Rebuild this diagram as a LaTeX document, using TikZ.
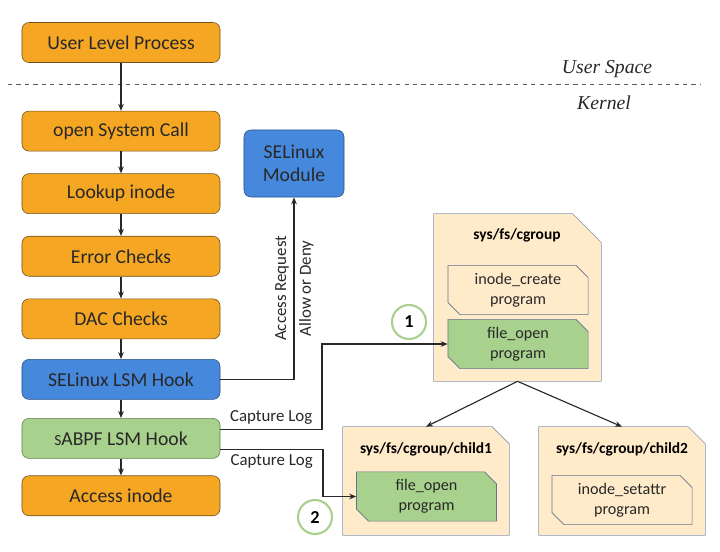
\documentclass[tikz,border=0pt]{standalone}
\usepackage{fontspec}
\setmainfont{Carlito}
\newfontfamily\labelserif{Liberation Serif}
\usepackage{tikz}
\usetikzlibrary{arrows.meta, positioning, shapes.misc, backgrounds, calc}
\definecolor{darkgray}{RGB}{40, 40, 40}
\definecolor{callorange}{RGB}{245, 166, 35}
\definecolor{callborder}{RGB}{110, 80, 30}
\definecolor{lsmblue}{RGB}{70, 136, 220}
\definecolor{lsmborder}{RGB}{40, 80, 140}
\definecolor{bpfgreen}{RGB}{169, 209, 142}
\definecolor{bpfborder}{RGB}{90, 130, 70}
\definecolor{folderfill}{RGB}{255, 235, 202}
\definecolor{folderborder}{RGB}{132, 151, 176}
\definecolor{progborder}{RGB}{100, 115, 140}

\begin{document}
\begin{tikzpicture}[
    x=0.025cm, y=-0.025cm,
    node distance=0.55cm,
    callbox/.style={draw=callborder, fill=callorange, rounded corners=5pt, minimum width=4.95cm, minimum height=1cm, font=\fontsize{14}{16}\selectfont, text=darkgray},
    lsmbox/.style={callbox, draw=lsmborder, fill=lsmblue},
    bpfbox/.style={callbox, draw=bpfborder, fill=bpfgreen},
    folder/.style={inner sep=0pt},
    folderline/.style={draw=folderborder, fill=folderfill},
    foldertitle/.style={font=\bfseries\fontsize{11}{13}\selectfont},
    prog/.style={chamfered rectangle, chamfered rectangle corners={north east, south west}, chamfered rectangle sep=0.15cm, draw=progborder, fill=folderfill, minimum width=3.5cm, minimum height=1.15cm, inner sep=1pt, align=center, font=\fontsize{11.5}{14.5}\selectfont, text=darkgray},
    badge/.style={circle, draw=bpfgreen, line width=1.5pt, fill=white, minimum size=0.85cm, font=\bfseries\fontsize{13}{15}\selectfont},
    lbl/.style={font=\fontsize{12}{14}\selectfont, text=darkgray},
    spacelbl/.style={font=\labelserif\itshape\fontsize{14}{16}\selectfont, text=darkgray},
    arrow/.style={-{Stealth[length=5pt, width=4pt]}, thick, darkgray}
]
    \useasboundingbox (0,0) rectangle (720,551);

    % Nodes - call path
    \node[callbox] (user) at (121,42.5) {User Level Process};
    \node[callbox, below=1.2cm of user] (open) {open System Call};
    \node[callbox, below=of open] (lookup) {Lookup inode};
    \node[callbox, below=of lookup] (errors) {Error Checks};
    \node[callbox, below=of errors] (dac) {DAC Checks};
    \node[lsmbox, below=0.5cm of dac] (selhook) {SELinux LSM Hook};
    \node[bpfbox, below=0.46cm of selhook] (sabpf) {{\fontsize{11}{16}\selectfont S}ABPF LSM Hook};
    \node[callbox, below=0.42cm of sabpf] (access) {Access inode};

    % Nodes - SELinux module
    \node[lsmbox, minimum width=2.5cm, minimum height=1.675cm, align=center] (semod) at (294,163.5) {SELinux\\Module};

    % User space / kernel split
    \draw[dashed, gray!70!black, thin] (8,84) -- (700,84);
    \node[spacelbl] (uspace) at (607,69) {User Space};
    \node[spacelbl] (kernel) at (604,103) {Kernel};

    % Nodes - cgroup folders
    \node[folder, minimum width=4.175cm, minimum height=4.175cm] (cgroup) at (517.5,297.5) {};
    \node[folder, minimum width=4.15cm, minimum height=2.7cm] (child1) at (426,481) {};
    \node[folder, minimum width=4.15cm, minimum height=2.7cm] (child2) at (622,481) {};
    \begin{scope}[on background layer]
        \foreach \f/\c in {cgroup/0.72cm, child1/0.43cm, child2/0.43cm}
            \draw[folderline] (\f.south west) -- (\f.north west) -- ([xshift=-\c]\f.north east)
                -- ([yshift=-\c]\f.north east) -- (\f.south east) -- cycle;
    \end{scope}
    \node[foldertitle] (cgtitle) at (517,235) {sys/fs/cgroup};
    \node[foldertitle] (c1title) at (426,449) {sys/fs/cgroup/child1};
    \node[foldertitle] (c2title) at (622,449) {sys/fs/cgroup/child2};

    % Nodes - programs
    \node[prog] (icreate) at (518,290) {inode\_create\\program};
    \node[prog, fill=bpfgreen] (fopen1) at (518,344) {file\_open\\program};
    \node[prog, fill=bpfgreen] (fopen2) at (426.5,496.5) {file\_open\\program};
    \node[prog] (isetattr) at (622,500) {inode\_setattr\\program};

    % Nodes - markers
    \node[badge] (num1) at (409,322) {1};
    \node[badge] (num2) at (315,517) {2};

    % Arrows - call path
    \draw[arrow] (user) -- (open);
    \draw[arrow] (open) -- (lookup);
    \draw[arrow] (lookup) -- (errors);
    \draw[arrow] (errors) -- (dac);
    \draw[arrow] (dac) -- (selhook);
    \draw[arrow] (selhook) -- (sabpf);
    \draw[arrow] (sabpf) -- (access);

    % Arrows - hooks
    \draw[arrow] (selhook.east) -| (semod.south)
        node[lbl, pos=0.75, above, sloped] {Access Request}
        node[lbl, pos=0.75, below, sloped] {Allow or Deny};
    \coordinate (bend1) at (322,0);
    \coordinate (bend2) at (323,0);
    \draw[arrow] ($(sabpf.east)+(0,-9)$) -| (bend1 |- fopen1.west)
        node[lbl, pos=0.25, above] {Capture Log} -- (fopen1.west);
    \draw[arrow] ($(sabpf.east)+(0,11)$) -| (bend2 |- fopen2.west)
        node[lbl, pos=0.25, below] {Capture Log} -- (fopen2.west);

    % Arrows - cgroup hierarchy
    \draw[arrow] (cgroup.south) -- (child1.north);
    \draw[arrow] (cgroup.south) -- (child2.north);
\end{tikzpicture}
\end{document}
